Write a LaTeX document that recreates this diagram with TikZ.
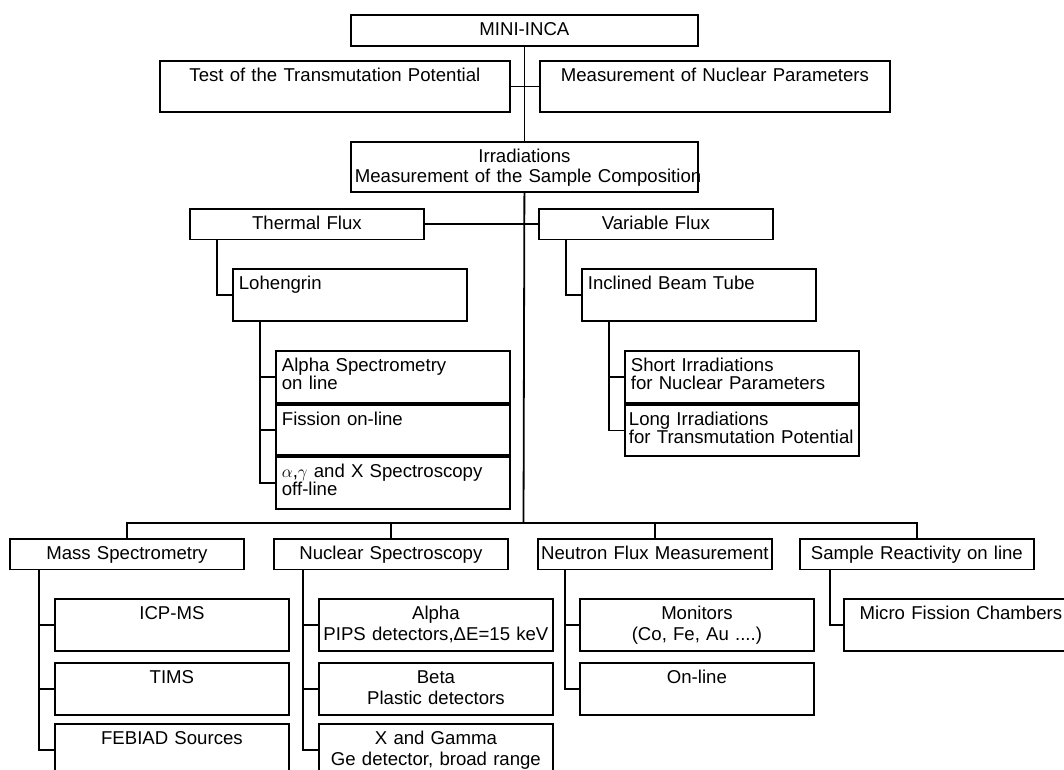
\documentclass[tikz,border=0pt]{standalone}
\usepackage{fontspec}
\setmainfont{Liberation Sans}

\begin{document}
\begin{tikzpicture}[x=1pt,y=-1pt,line width=1.8pt]
  \tikzstyle{box}=[draw,anchor=north west,inner xsep=3pt,inner ysep=0pt,
                   text width=228pt,text height=21pt,text depth=31pt,
                   align=center,font=\fontsize{18.6}{21}\selectfont]
  \tikzstyle{head}=[box,text depth=9.5pt]
  \tikzstyle{wide}=[box,text width=341pt]
  \tikzstyle{lbox}=[box,inner xsep=6pt,text width=222pt,align=left,
                    font=\fontsize{18.6}{17.7}\selectfont]

  \clip (0,0) rectangle (1064,769);

  \node[wide,text depth=10pt]                  (mini)   at (350,14)  {MINI-INCA};
  \node[wide,text width=344pt,text depth=30pt] (test)   at (159,60)  {Test of the Transmutation Potential};
  \node[wide,text width=344pt,text depth=30pt] (nucpar) at (539,60)  {Measurement of Nuclear Parameters};
  \node[wide,inner xsep=4pt,text width=339pt,text depth=29pt,font=\fontsize{18.6}{20}\selectfont]
       (irrad) at (350,141) {Irradiations\\\mbox{Measurement of the Sample Composition}};

  \node[head] (thermal)   at (189,208) {Thermal Flux};
  \node[head] (variable)  at (538,208) {Variable Flux};
  \node[lbox] (lohengrin) at (232,268) {Lohengrin};
  \node[lbox] (alphaspec) at (275,350) {Alpha Spectrometry\\on line};
  \node[lbox,text depth=29pt] (fission) at (275,404) {Fission on-line};
  \node[lbox] (agx)       at (275,456) {$\alpha$,$\gamma$ and X Spectroscopy\\off-line};
  \node[lbox] (beamtube)  at (581,268) {Inclined Beam Tube};
  \node[lbox] (shortirr)  at (624,350) {Short Irradiations\\for Nuclear Parameters};
  \node[lbox,inner xsep=4pt,text width=226pt,text depth=30pt] (longirr) at (624,404)
       {Long Irradiations\\for Transmutation Potential};

  \node[head] (mass)       at (9,538)   {Mass Spectrometry};
  \node[head] (nucspec)    at (273,538) {Nuclear Spectroscopy};
  \node[head] (neutron)    at (537,538) {Neutron Flux Measurement};
  \node[head] (reactivity) at (799,538) {Sample Reactivity on line};
  \node[box]  (icpms)      at (54,598)  {ICP-MS};
  \node[box]  (tims)       at (54,662)  {TIMS};
  \node[box]  (febiad)     at (54,723)  {FEBIAD Sources};
  \node[box]  (alpha)      at (318,598) {Alpha\\PIPS detectors,ΔE=15 keV};
  \node[box]  (beta)       at (318,662) {Beta\\Plastic detectors};
  \node[box]  (xgamma)     at (318,723) {X and Gamma\\Ge detector, broad range};
  \node[box]  (monitors)   at (579,598) {Monitors\\(Co, Fe, Au ....)};
  \node[box]  (online)     at (579,662) {On-line};
  \node[box]  (microfc)    at (843,598) {Micro Fission Chambers};

  % main spine and bus
  \coordinate (bus) at (523.5,523);
  \draw (mini.south) -- (irrad.north);
  \draw (test.east) -- (nucpar.west);
  \draw (thermal.east) -- (variable.west);
  \draw (irrad.south) -- (bus);
  \draw (mass.north) |- (bus) -| (reactivity.north);
  \draw (nucspec.north) -- (nucspec.north |- bus);
  \draw (neutron.north) -- (neutron.north |- bus);

  % irradiation branches
  \coordinate (lb) at ([xshift=28pt]lohengrin.south west);
  \coordinate (bb) at ([xshift=28pt]beamtube.south west);
  \draw ([xshift=28pt]thermal.south west) |- (lohengrin.west);
  \draw (lb) |- (agx.west);
  \draw (lb |- alphaspec.west) -- (alphaspec.west);
  \draw (lb |- fission.west) -- (fission.west);
  \draw ([xshift=28pt]variable.south west) |- (beamtube.west);
  \draw (bb) |- (longirr.west);
  \draw (bb |- shortirr.west) -- (shortirr.west);

  % measurement branches
  \coordinate (mb) at ([xshift=30pt]mass.south west);
  \coordinate (nb) at ([xshift=30pt]nucspec.south west);
  \coordinate (fb) at ([xshift=28pt]neutron.south west);
  \draw (mb) |- (febiad.west);
  \draw (mb |- icpms.west) -- (icpms.west);
  \draw (mb |- tims.west) -- (tims.west);
  \draw (nb) |- (xgamma.west);
  \draw (nb |- alpha.west) -- (alpha.west);
  \draw (nb |- beta.west) -- (beta.west);
  \draw (fb) |- (online.west);
  \draw (fb |- monitors.west) -- (monitors.west);
  \draw ([xshift=31pt]reactivity.south west) |- (microfc.west);
\end{tikzpicture}
\end{document}
